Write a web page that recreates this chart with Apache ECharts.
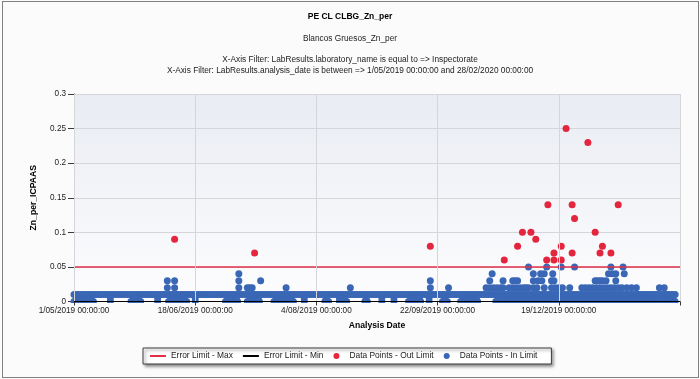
<!DOCTYPE html>
<html><head><meta charset="utf-8">
<script src="https://cdn.jsdelivr.net/npm/echarts@6/dist/echarts.min.js"></script>
<style>
html,body{margin:0;padding:0;background:#fbfbfb}
#c{width:700px;height:379px}
#frame{position:absolute;left:2px;top:1px;width:695px;height:375px;border:1px solid #808080;pointer-events:none}
</style>
</head><body><div id="c"></div><div id="frame"></div>
<script>
// ---- texts ----
const titleMain = 'PE CL CLBG_Zn_per';
const titleSub = 'Blancos Gruesos_Zn_per';
const filterLine1 = 'X-Axis Filter: LabResults.laboratory_name is equal to => Inspectorate';
const filterLine2 = 'X-Axis Filter: LabResults.analysis_date is between => 1/05/2019 00:00:00 and 28/02/2020 00:00:00';
const xAxisName = 'Analysis Date';
const yAxisName = 'Zn_per_ICPAAS';
const xTickLabels = ['1/05/2019 00:00:00', '18/06/2019 00:00:00', '4/08/2019 00:00:00', '22/09/2019 00:00:00', '19/12/2019 00:00:00', ''];

// ---- limits ----
const limitMax = 0.05;
const limitMin = 0;

// ---- in-limit points: one x list per y level (x = sample position along the axis) ----
const inRowY = [0, 0.005, 0.01, 0.02, 0.03, 0.04, 0.05];
const inX000 = [0,4,8,12,16,30,47,51,55,69,78,82,86,90,93,100,125,129,133,135,143,147,151,153,165,169,173,177,181,190,207,210,219,222,225,240,242,254,264,276,280,284,286,293,304,308,319,323,327,331,333,348,352,356,360,364,368,372,376,380,384,388,392,396,400,404,408,412,416,420,424,428,432,436,440,444,448,452,456,460,464,468,472,476,480,484,488,492,496];
const inX0005 = [2,6,10,14,30,49,53,69,80,84,88,91,100,127,131,134,145,149,152,167,171,175,179,190,208,219,223,241,254,264,278,282,285,293,306,321,325,329,332,350,354,358,362,366,370,374,378,382,386,390,394,398,402,406,410,414,418,422,426,430,434,438,442,446,450,454,458,462,466,470,474,478,482,486,490,494];
const inX001 = [
  0,2,4,6,8,10,12,14,16,18,20,22,24,26,28,30,32,34,36,38,40,42,44,46,48,50,52,54,56,58,60,62,64,66,68,70,72,74,76,78,80,82,84,86,88,90,92,94,96,98,
  100,102,104,106,108,110,112,114,116,118,120,122,124,126,128,130,132,134,136,138,140,142,144,146,148,150,152,154,156,158,160,162,164,166,168,170,172,174,176,178,180,182,184,186,188,190,192,194,196,198,
  200,202,204,206,208,210,212,214,216,218,220,222,224,226,228,230,232,234,236,238,240,242,244,246,248,250,252,254,256,258,260,262,264,266,268,270,272,274,276,278,280,282,284,286,288,290,292,294,296,298,
  300,302,304,306,308,310,312,314,316,318,320,322,324,326,328,330,332,334,336,338,340,342,344,346,348,350,352,354,356,358,360,362,364,366,368,370,372,374,376,378,380,382,384,386,388,390,392,394,396,398,
  400,402,404,406,408,410,412,414,416,418,420,422,424,426,428,430,432,434,436,438,440,442,444,446,448,450,452,454,456,458,460,462,464,466,468,470,472,474,476,478,480,482,484,486,488,490,492,494,496];
const inX002 = [77,83,136,143,145,147,175,228,294,309,340,343,346,349,352,354,359,362,365,368,371,373,375,379,382,388,394,397,400,403,409,419,422,425,428,431,434,437,440,443,446,449,452,456,460,464,483,487];
const inX003 = [77,83,136,154,294,343,354,362,364,366,379,383,386,394,396,430,432,434,436,439,447];
const inX004 = [136,345,379,385,388,395,441,444,447,454];
const inX005 = [375,390,402,413,443,453];
const inRowX = [inX000, inX0005, inX001, inX002, inX003, inX004, inX005];

// ---- out-of-limit points ----
const outX = [83,149,294,355,366,370,377,381,390,391,396,396,402,402,406,411,411,413,424,430,434,436,443,449];
const outY = [0.09,0.07,0.08,0.06,0.08,0.10,0.10,0.09,0.06,0.14,0.06,0.07,0.08,0.06,0.25,0.14,0.07,0.12,0.23,0.10,0.07,0.08,0.07,0.14];

// ---- build ----
const inData = [];
inRowY.forEach((y, i) => inRowX[i].forEach(x => inData.push([x, y])));
const outData = outX.map((x, i) => [x, outY[i]]);

const FONT = 'Liberation Sans, Arial, sans-serif';
const BG = '#fbfbfb';
const LINE_ICON = 'path://M0,0H16V2H0Z';
const chart = echarts.init(document.getElementById('c'), null, {renderer: 'canvas'});

const titleStyle = (size, bold, color) => ({fontSize: size, fontWeight: bold ? 'bold' : 'normal', color: color, lineHeight: 10, fontFamily: FONT});

chart.setOption({
  backgroundColor: BG,
  animation: false,
  textStyle: {fontFamily: FONT},
  title: [
    {text: titleMain, left: 'center', top: 12, padding: 0, textStyle: titleStyle(8.5, true, '#000')},
    {text: titleSub, left: 'center', top: 33.5, padding: 0, textStyle: titleStyle(8.3, false, '#222')},
    {text: filterLine1, left: 'center', top: 55, padding: 0, textStyle: titleStyle(8.3, false, '#222')},
    {text: filterLine2, left: 'center', top: 65.3, padding: 0, textStyle: titleStyle(8.3, false, '#222')}
  ],
  grid: {
    left: 74, right: 20, top: 94, bottom: 77.5, show: true, borderWidth: 0,
    backgroundColor: new echarts.graphic.LinearGradient(0, 0, 0, 1, [
      {offset: 0, color: '#e9ecf3'}, {offset: 1, color: '#fdfdfe'}
    ])
  },
  xAxis: {
    type: 'value', min: 0, max: 500, interval: 100, z: 10,
    axisLine: {onZero: false, lineStyle: {color: '#3a3a3a', width: 1}},
    axisTick: {length: 4, lineStyle: {color: '#3a3a3a'}},
    axisLabel: {formatter: v => xTickLabels[Math.round(v / 100)] || '', fontSize: 8.2, color: '#222', margin: 5, fontFamily: FONT, showMaxLabel: true},
    splitLine: {show: true, lineStyle: {color: '#d4d6da'}},
    name: xAxisName, nameLocation: 'middle', nameGap: 20,
    nameTextStyle: {fontWeight: 'bold', fontSize: 8.6, color: '#000', fontFamily: FONT}
  },
  yAxis: {
    type: 'value', min: 0, max: 0.3, interval: 0.05,
    axisLine: {show: true, lineStyle: {color: '#3a3a3a', width: 1}},
    axisTick: {show: true, length: 6, lineStyle: {color: '#3a3a3a'}},
    axisLabel: {fontSize: 8.2, color: '#222', margin: 8, fontFamily: FONT},
    splitLine: {show: true, lineStyle: {color: '#d4d6da'}},
    name: yAxisName, nameLocation: 'middle', nameRotate: 90, nameGap: 36,
    nameTextStyle: {fontWeight: 'bold', fontSize: 8.6, color: '#000', fontFamily: FONT}
  },
  legend: {
    left: 143, top: 348, orient: 'horizontal', itemWidth: 16, itemHeight: 6, itemGap: 10,
    padding: [4, 14, 4, 7], borderColor: '#3c3c3c', borderWidth: 1, backgroundColor: '#ffffff',
    shadowColor: 'rgba(0,0,0,0.45)', shadowBlur: 3, shadowOffsetX: 2, shadowOffsetY: 2,
    selectedMode: false,
    textStyle: {fontSize: 8.4, color: '#222', fontFamily: FONT},
    data: [
      {name: 'Error Limit - Max', icon: LINE_ICON},
      {name: 'Error Limit - Min', icon: LINE_ICON},
      {name: 'Data Points - Out Limit', icon: 'circle'},
      {name: 'Data Points - In Limit', icon: 'circle'}
    ]
  },
  series: [
    {type: 'scatter', name: 'Data Points - In Limit', data: inData, symbolSize: 7, itemStyle: {color: '#3a67b5', opacity: 1}, z: 2},
    {type: 'scatter', name: 'Data Points - Out Limit', data: outData, symbolSize: 7, itemStyle: {color: '#e3263e', opacity: 1}, z: 3},
    {type: 'line', name: 'Error Limit - Max', data: [], color: '#e0304a', symbol: 'none', showSymbol: false,
      itemStyle: {color: '#e0304a'}, lineStyle: {color: '#e0304a', width: 2},
      markLine: {silent: true, symbol: 'none', z: 5, label: {show: false}, animation: false,
        lineStyle: {color: '#e0304a', width: 1.5, type: 'solid'}, data: [{yAxis: limitMax}]}},
    {type: 'line', name: 'Error Limit - Min', data: [], color: '#000', symbol: 'none', showSymbol: false,
      itemStyle: {color: '#000'}, lineStyle: {color: '#000', width: 2},
      markLine: {silent: true, symbol: 'none', z: 12, label: {show: false}, animation: false,
        lineStyle: {color: '#000', width: 1, type: 'solid'}, data: [{yAxis: limitMin}]}}
  ]
});

// mask the lower half of the zero-row dots below the axis (plot-area clipping)
const y0 = chart.convertToPixel({gridIndex: 0}, [0, 0])[1];
chart.setOption({
  graphic: [{type: 'rect', silent: true, z: 8, shape: {x: 70, y: Math.round(y0) + 1, width: 620, height: 5}, style: {fill: BG}}]
});
</script>
</body></html>
